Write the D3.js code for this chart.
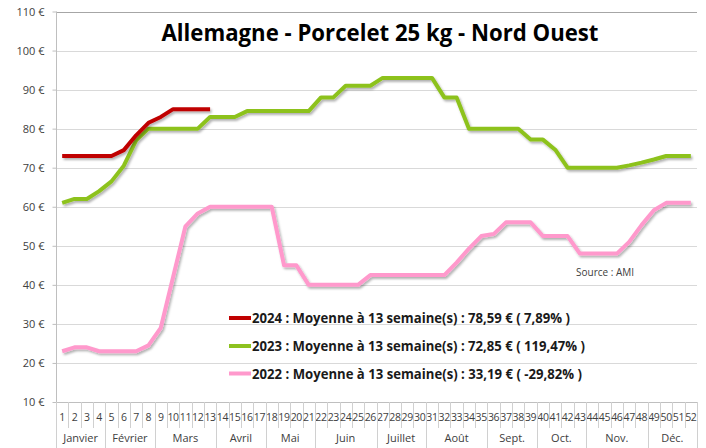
<!DOCTYPE html>
<html>
<head>
<meta charset="utf-8">
<script src="https://cdn.jsdelivr.net/npm/d3@7"></script>
<style>
  body { margin: 0; background: #fff; }
  svg { font-family: "Open Sans", "Liberation Sans", sans-serif; }
</style>
</head>
<body>
<svg width="706" height="448"></svg>
<script>
// weekly prices, euros per piglet
var weeks = d3.range(1, 53);
var values2024 = [73, 73, 73, 73, 73, 74.5, 78.3, 81.5, 83, 85, 85, 85, 85];
var values2023 = [61, 62, 62, 64, 66.5, 70.5, 77, 80, 80, 80, 80, 80, 83, 83, 83, 84.5, 84.5, 84.5, 84.5, 84.5,
                  84.5, 88, 88, 91, 91, 91, 93, 93, 93, 93, 93, 88, 88, 80, 80, 80, 80, 80, 77.2, 77.2,
                  74.6, 70, 70, 70, 70, 70, 70.6, 71.3, 72.1, 73, 73, 73];
var values2022 = [23, 24, 24, 23, 23, 23, 23, 24.5, 29, 42, 55, 58.3, 60, 60, 60, 60, 60, 60, 45, 45,
                  40, 40, 40, 40, 40, 42.5, 42.5, 42.5, 42.5, 42.5, 42.5, 42.5, 45.7, 49.3, 52.5, 53, 56, 56, 56, 52.5,
                  52.5, 52.5, 48, 48, 48, 48, 51, 55.3, 59.1, 61, 61, 61];
var yTicks = [10, 20, 30, 40, 50, 60, 70, 80, 90, 100, 110];
var monthNames = ["Janvier", "Février", "Mars", "Avril", "Mai", "Juin", "Juillet", "Août", "Sept.", "Oct.", "Nov.", "Déc."];
var monthLastWeek = [4, 8, 13, 17, 21, 26, 30, 35, 39, 43, 48, 52];
var legendLabels = [
    "2024 : Moyenne à 13 semaine(s) : 78,59 € ( 7,89% )",
    "2023 : Moyenne à 13 semaine(s) : 72,85 € ( 119,47% )",
    "2022 : Moyenne à 13 semaine(s) : 33,19 € ( -29,82% )"
];

var svg = d3.select("svg");
var plotLeft = 56, plotRight = 697, plotTop = 11.5, plotBottom = 402;

var x = d3.scaleBand().domain(weeks).range([plotLeft, plotRight]).padding(0);
var y = d3.scaleLinear().domain([10, 110]).range([plotBottom, plotTop]);

var defs = svg.append("defs");
var shadow = defs.append("filter").attr("id", "shadow")
    .attr("x", "-5%").attr("y", "-5%").attr("width", "110%").attr("height", "120%");
shadow.append("feDropShadow")
    .attr("dx", 1.5).attr("dy", 2).attr("stdDeviation", 1)
    .attr("flood-color", "#000").attr("flood-opacity", 0.3);

// grid
svg.append("g")
    .selectAll("line")
    .data(yTicks.slice(1))
    .enter().append("line")
    .attr("x1", plotLeft).attr("x2", plotRight)
    .attr("y1", function(d) { return Math.round(y(d)) + 0.5; })
    .attr("y2", function(d) { return Math.round(y(d)) + 0.5; })
    .attr("stroke", function(d) { return d === 110 ? "#a6a6a6" : "#d9d9d9"; })
    .attr("stroke-width", 1);

// y axis
var yAxis = svg.append("g")
    .attr("transform", "translate(" + (plotLeft + 0.5) + ",0)")
    .call(d3.axisLeft(y).tickValues(yTicks).tickSize(4).tickPadding(8)
        .tickFormat(function(d) { return d + " €"; }));
yAxis.select(".domain").attr("stroke", "#bfbfbf").attr("d", "M0," + plotTop + "V" + plotBottom);
yAxis.selectAll(".tick line").attr("stroke", "#bfbfbf");
yAxis.selectAll(".tick text").attr("fill", "#404040").style("font-size", "11px")
    .style("font-family", "'Open Sans', sans-serif");

// x axis, two levels: weeks then months
var xAxis = svg.append("g");
xAxis.append("line")
    .attr("x1", plotLeft).attr("x2", plotRight)
    .attr("y1", plotBottom + 0.5).attr("y2", plotBottom + 0.5)
    .attr("stroke", "#bfbfbf");
xAxis.selectAll(".wtick")
    .data(weeks)
    .enter().append("line")
    .attr("class", "wtick")
    .attr("x1", function(d) { return Math.round(x(d)) + 0.5; })
    .attr("x2", function(d) { return Math.round(x(d)) + 0.5; })
    .attr("y1", plotBottom).attr("y2", plotBottom + 26)
    .attr("stroke", "#d0d0d0");
xAxis.selectAll(".wlabel")
    .data(weeks)
    .enter().append("text")
    .attr("class", "wlabel")
    .attr("x", function(d) { return x(d) + x.bandwidth() / 2; })
    .attr("y", plotBottom + 19)
    .attr("text-anchor", "middle")
    .attr("fill", "#404040")
    .style("font-size", "10.5px")
    .style("letter-spacing", "-0.3px")
    .text(function(d) { return d; });

var monthStart = [0].concat(monthLastWeek.slice(0, -1));
xAxis.selectAll(".msep")
    .data(monthStart.concat([52]))
    .enter().append("line")
    .attr("class", "msep")
    .attr("x1", function(d) { return Math.round(plotLeft + d * x.bandwidth()) + 0.5; })
    .attr("x2", function(d) { return Math.round(plotLeft + d * x.bandwidth()) + 0.5; })
    .attr("y1", plotBottom).attr("y2", 448)
    .attr("stroke", "#d0d0d0");
xAxis.selectAll(".mlabel")
    .data(monthNames)
    .enter().append("text")
    .attr("class", "mlabel")
    .attr("x", function(d, i) { return plotLeft + (monthStart[i] + monthLastWeek[i]) / 2 * x.bandwidth(); })
    .attr("y", plotBottom + 40)
    .attr("text-anchor", "middle")
    .attr("fill", "#404040")
    .style("font-size", "11px")
    .text(function(d) { return d; });

// series
var line = d3.line()
    .x(function(d, i) { return x(weeks[i]) + x.bandwidth() / 2; })
    .y(function(d) { return y(d); });

var series = [
    {values: values2022, color: "#ff99cc"},
    {values: values2023, color: "#8dc21f"},
    {values: values2024, color: "#c00000"}
];
svg.append("g")
    .selectAll("path")
    .data(series)
    .enter().append("path")
    .attr("d", function(d) { return line(d.values); })
    .attr("fill", "none")
    .attr("stroke", function(d) { return d.color; })
    .attr("stroke-width", 4)
    .attr("stroke-linejoin", "round")
    .attr("filter", "url(#shadow)");

// title
svg.append("text")
    .attr("x", 380).attr("y", 41)
    .attr("text-anchor", "middle")
    .attr("textLength", 437)
    .attr("lengthAdjust", "spacingAndGlyphs")
    .style("font-size", "23px")
    .style("font-weight", "bold")
    .attr("fill", "#000")
    .text("Allemagne - Porcelet 25 kg - Nord Ouest");

// legend
var legendColors = ["#c00000", "#8dc21f", "#ff99cc"];
var legendY = [318, 346, 373.5];
var legendWidth = [318, 333, 330];
var legend = svg.append("g")
    .selectAll("g")
    .data(legendLabels)
    .enter().append("g")
    .attr("transform", function(d, i) { return "translate(229," + legendY[i] + ")"; });
legend.append("line")
    .attr("x1", 0).attr("x2", 22)
    .attr("stroke", function(d, i) { return legendColors[i]; })
    .attr("stroke-width", 4);
legend.append("text")
    .attr("x", 23).attr("y", 5)
    .attr("textLength", function(d, i) { return legendWidth[i]; })
    .attr("lengthAdjust", "spacingAndGlyphs")
    .style("font-size", "14px")
    .style("font-weight", "bold")
    .attr("fill", "#1a1a1a")
    .text(function(d) { return d; });

svg.append("text")
    .attr("x", 576).attr("y", 276)
    .style("font-size", "10px")
    .attr("fill", "#404040")
    .text("Source : AMI");
</script>
</body>
</html>
